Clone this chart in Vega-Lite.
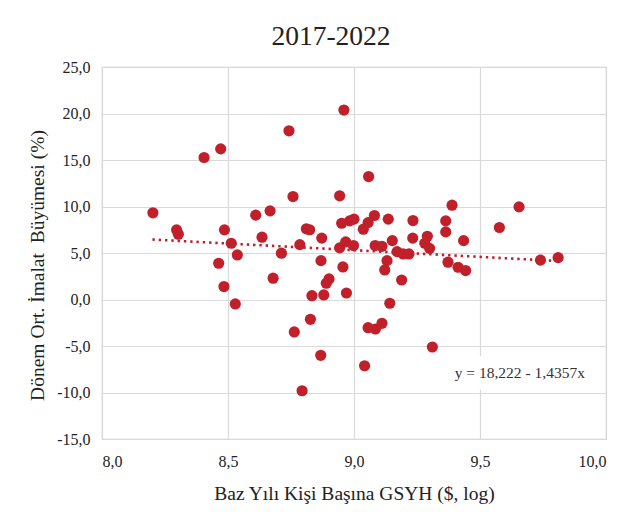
{
  "$schema": "https://vega.github.io/schema/vega-lite/v6.json",
  "autosize": "none",
  "width": 504,
  "height": 372,
  "padding": {"left": 102, "top": 67, "right": 32, "bottom": 78},
  "background": "white",
  "title": {
    "text": "2017-2022",
    "font": "Liberation Serif",
    "fontSize": 27.5,
    "fontWeight": "normal",
    "color": "#222222",
    "anchor": "middle",
    "frame": "group",
    "baseline": "alphabetic",
    "offset": 20,
    "dx": -23,
    "dy": 33
  },
  "config": {
    "font": "Liberation Serif",
    "view": {"stroke": "#d0d0d0", "strokeWidth": 1.2},
    "text": {"font": "Liberation Serif"},
    "axis": {
      "labelFont": "Liberation Serif",
      "titleFont": "Liberation Serif",
      "labelFontSize": 16,
      "titleFontSize": 19.5,
      "titleFontWeight": "normal",
      "labelColor": "#222222",
      "titleColor": "#222222",
      "gridColor": "#d9d9d9",
      "gridWidth": 1.2,
      "domain": false,
      "ticks": false
    }
  },
  "datasets": {
    "pts": [
      {"gdp": 8.202, "growth": 9.32},
      {"gdp": 8.296, "growth": 7.49},
      {"gdp": 8.303, "growth": 7.02},
      {"gdp": 8.405, "growth": 15.27},
      {"gdp": 8.471, "growth": 16.2},
      {"gdp": 8.463, "growth": 3.9},
      {"gdp": 8.484, "growth": 1.39},
      {"gdp": 8.486, "growth": 7.49},
      {"gdp": 8.513, "growth": 6.05},
      {"gdp": 8.529, "growth": -0.48},
      {"gdp": 8.537, "growth": 4.79},
      {"gdp": 8.61, "growth": 9.07},
      {"gdp": 8.635, "growth": 6.7},
      {"gdp": 8.667, "growth": 9.53},
      {"gdp": 8.679, "growth": 2.29},
      {"gdp": 8.712, "growth": 4.98},
      {"gdp": 8.742, "growth": 18.14},
      {"gdp": 8.758, "growth": 11.07},
      {"gdp": 8.763, "growth": -3.49},
      {"gdp": 8.785, "growth": 5.9},
      {"gdp": 8.794, "growth": -9.81},
      {"gdp": 8.811, "growth": 7.6},
      {"gdp": 8.824, "growth": 7.5},
      {"gdp": 8.827, "growth": -2.13},
      {"gdp": 8.833, "growth": 0.41},
      {"gdp": 8.868, "growth": -6.0},
      {"gdp": 8.869, "growth": 4.18},
      {"gdp": 8.872, "growth": 6.6},
      {"gdp": 8.88, "growth": 0.49},
      {"gdp": 8.89, "growth": 1.75},
      {"gdp": 8.901, "growth": 2.21},
      {"gdp": 8.943, "growth": 11.15},
      {"gdp": 8.951, "growth": 8.2},
      {"gdp": 8.943, "growth": 5.55},
      {"gdp": 8.956, "growth": 3.5},
      {"gdp": 8.96, "growth": 20.37},
      {"gdp": 8.967, "growth": 6.2},
      {"gdp": 8.97, "growth": 0.7},
      {"gdp": 8.983, "growth": 8.45},
      {"gdp": 8.998, "growth": 5.8},
      {"gdp": 9.0, "growth": 8.64},
      {"gdp": 9.037, "growth": 7.56},
      {"gdp": 9.042, "growth": -7.12},
      {"gdp": 9.056, "growth": 8.27},
      {"gdp": 9.058, "growth": 13.22},
      {"gdp": 9.056, "growth": -3.03},
      {"gdp": 9.081, "growth": 9.03},
      {"gdp": 9.085, "growth": -3.17},
      {"gdp": 9.084, "growth": 5.8},
      {"gdp": 9.111, "growth": 5.72},
      {"gdp": 9.111, "growth": -2.56},
      {"gdp": 9.122, "growth": 3.18},
      {"gdp": 9.131, "growth": 4.18},
      {"gdp": 9.136, "growth": 8.64},
      {"gdp": 9.142, "growth": -0.4},
      {"gdp": 9.152, "growth": 6.33},
      {"gdp": 9.171, "growth": 5.15},
      {"gdp": 9.189, "growth": 2.1},
      {"gdp": 9.195, "growth": 4.9},
      {"gdp": 9.218, "growth": 4.9},
      {"gdp": 9.233, "growth": 6.6},
      {"gdp": 9.234, "growth": 8.49},
      {"gdp": 9.281, "growth": 6.05},
      {"gdp": 9.291, "growth": 6.8},
      {"gdp": 9.3, "growth": 5.5},
      {"gdp": 9.311, "growth": -5.11},
      {"gdp": 9.364, "growth": 8.45},
      {"gdp": 9.364, "growth": 7.27},
      {"gdp": 9.373, "growth": 4.01},
      {"gdp": 9.389, "growth": 10.14},
      {"gdp": 9.413, "growth": 3.47},
      {"gdp": 9.435, "growth": 6.33},
      {"gdp": 9.443, "growth": 3.11},
      {"gdp": 9.577, "growth": 7.74},
      {"gdp": 9.655, "growth": 9.96},
      {"gdp": 9.74, "growth": 4.23},
      {"gdp": 9.81, "growth": 4.5}
    ],
    "trend": [
      {"gdp": 8.2, "growth": 6.449},
      {"gdp": 9.8, "growth": 4.152}
    ],
    "note": [
      {"gdp": 9.658, "growth": -7.85, "label": "y = 18,222 - 1,4357x"}
    ]
  },
  "encoding": {
    "x": {
      "field": "gdp",
      "type": "quantitative",
      "scale": {"domain": [8, 10], "nice": false, "zero": false},
      "axis": {
        "values": [8, 8.5, 9, 9.5, 10],
        "title": "Baz Yılı Kişi Başına GSYH ($, log)",
        "labelFont": "Liberation Serif",
        "labelExpr": "replace(format(datum.value, '.1f'), '.', ',')",
        "labelPadding": 14,
        "titleY": 54,
        "titleBaseline": "middle"
      }
    },
    "y": {
      "field": "growth",
      "type": "quantitative",
      "scale": {"domain": [-15, 25], "nice": false, "zero": false},
      "axis": {
        "values": [-15, -10, -5, 0, 5, 10, 15, 20, 25],
        "title": "Dönem Ort. İmalat\u00a0 Büyümesi (%)",
        "labelFont": "Liberation Serif",
        "labelExpr": "replace(replace(format(datum.value, '.1f'), '.', ','), '\u2212', '-')",
        "labelPadding": 12,
        "titleAngle": -90,
        "titleX": -65,
        "titleY": 198,
        "titleAlign": "center",
        "titleBaseline": "middle"
      }
    }
  },
  "layer": [
    {
      "data": {"name": "trend"},
      "mark": {"type": "line", "color": "#c1202b", "strokeWidth": 2.6, "strokeDash": [2.4, 3.9]}
    },
    {
      "data": {"name": "pts"},
      "mark": {"type": "circle", "size": 125, "color": "#c1202b", "opacity": 1}
    },
    {
      "data": {"name": "note"},
      "mark": {"type": "rect", "color": "white"},
      "encoding": {
        "x": {"datum": 9.39},
        "x2": {"datum": 9.92},
        "y": {"datum": -6.1},
        "y2": {"datum": -9.7}
      }
    },
    {
      "data": {"name": "note"},
      "mark": {"type": "text", "font": "Liberation Serif", "fontSize": 15.5, "color": "#333333", "baseline": "middle"},
      "encoding": {"text": {"field": "label"}}
    }
  ]
}
